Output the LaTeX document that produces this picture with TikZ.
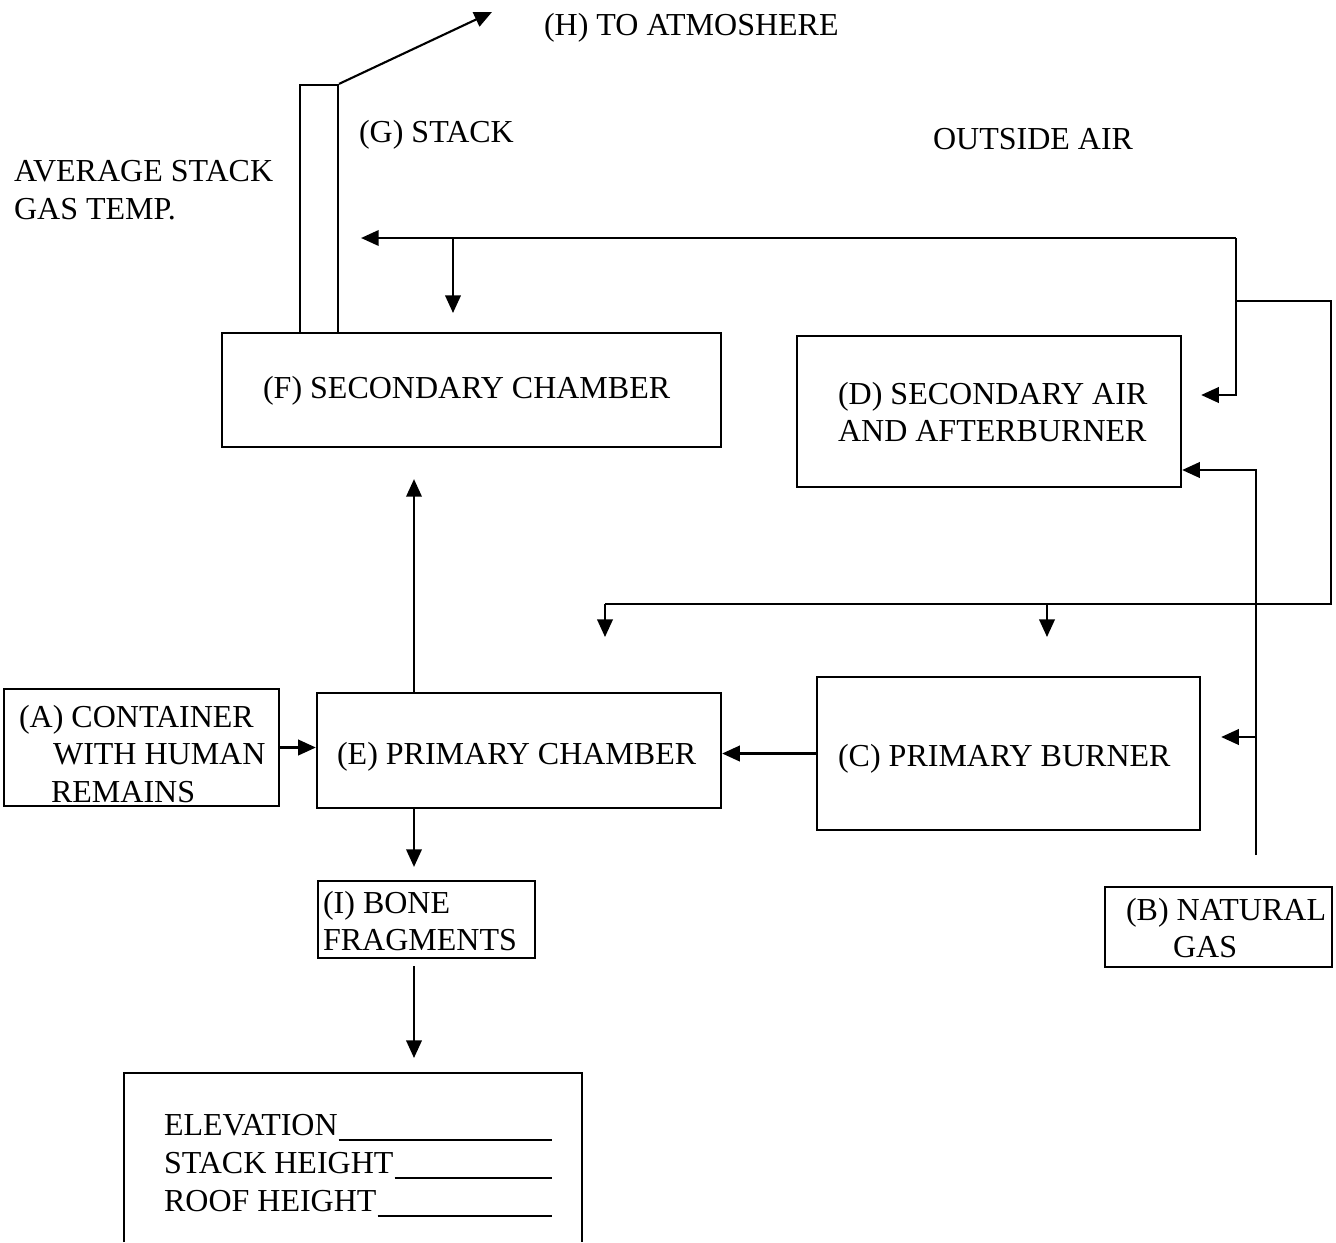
\documentclass[tikz,border=0pt]{standalone}
\usepackage{fontspec}
\setmainfont{Liberation Serif}
\usetikzlibrary{arrows.meta}

\begin{document}
\begin{tikzpicture}[x=0.01cm,y=-0.01cm,line width=0.6pt,
        box/.style={draw,rectangle,inner sep=0pt},
        lbl/.style={font=\fontsize{9.1}{10.6}\selectfont,inner sep=0pt,align=left,anchor=west},
        flow/.style={-{Triangle[length=5pt,width=4.4pt]}}]
        \useasboundingbox (0,0) rectangle (1336,1242);
        % boxes
        \node[box,minimum width=4.99cm,minimum height=1.14cm] (F) at (471.5,390) {};
        \node[box,minimum width=3.84cm,minimum height=1.51cm] (D) at (989,411.5) {};
        \node[box,minimum width=3.83cm,minimum height=1.53cm] (C) at (1008.5,753.5) {};
        \node[box,minimum width=4.04cm,minimum height=1.15cm] (E) at (519,750.5) {};
        \node[box,minimum width=2.75cm,minimum height=1.17cm] (A) at (141.5,747.5) {};
        \node[box,minimum width=2.17cm,minimum height=0.77cm] (I) at (426.5,919.5) {};
        \node[box,minimum width=2.27cm,minimum height=0.80cm] (B) at (1218.5,927) {};
        \node[box,minimum width=0.38cm,minimum height=2.48cm] (G) at (319,209) {};
        \draw (124,1242) -- (124,1073) -- (582,1073) -- (582,1242);
        \coordinate (site) at (414,1073);
        % texts
        \node[lbl] (Ht) at (543,28) {(H) TO ATMOSHERE};
        \node[lbl] (Gt) at (358,135) {(G) STACK};
        \node[lbl] (Tt) at (13,190) {AVERAGE STACK\\GAS TEMP.};
        \node[lbl] (Ot) at (932,139) {OUTSIDE AIR};
        \node[lbl] (Ft) at (262,391) {(F) SECONDARY CHAMBER};
        \node[lbl] (Dt) at (837,412) {(D) SECONDARY AIR\\AND AFTERBURNER};
        \node[lbl] (Et) at (336,757) {(E) PRIMARY CHAMBER};
        \node[lbl] (Ct) at (837,759) {(C) PRIMARY BURNER};
        \node[lbl] (At) at (18,754) {(A) CONTAINER\\\hspace*{0.34cm}WITH HUMAN\\\hspace*{0.32cm}REMAINS};
        \node[lbl] (It) at (322,921) {(I) BONE\\FRAGMENTS};
        \node[lbl] (Bt) at (1125,928) {(B) NATURAL\\\hspace*{0.47cm}GAS};
        \node[lbl,anchor=base west] (elev) at (163,1135) {ELEVATION};
        \node[lbl,anchor=base west] (stackh) at (163,1173) {STACK HEIGHT};
        \node[lbl,anchor=base west] (roofh) at (163,1211) {ROOF HEIGHT};
        \coordinate (ulend) at (552,0);
        \foreach \n in {elev,stackh,roofh}
            \draw ([yshift=-0.05cm]\n.base east) coordinate (u) -- (u -| ulend);
        % stack to atmosphere
        \coordinate (atm) at (492,12);
        \draw[flow] (G.north east) -- (atm);
        % outside air
        \coordinate (air1) at (1236,238);
        \coordinate (air2) at (1236,301);
        \coordinate (air3) at (1331,604);
        \coordinate (dropE) at (605,637);
        \coordinate (dropC) at (1047,637);
        \draw[flow,shorten >=0.22cm] (air1) -- (air1 -| G.east);
        \draw[flow,shorten >=0.2cm] (453,238) -- (453,333);
        \draw[flow,shorten >=0.19cm] (air1) -- (1236,395) -- (D.east |- 0,395);
        \draw (air2) -- (air2 -| air3) -- (air3) -- (air3 -| dropE);
        \draw[flow] (dropE |- air3) -- (dropE);
        \draw[flow] (dropC |- air3) -- (dropC);
        % natural gas
        \coordinate (gas) at (1256,855);
        \draw[flow] (gas) -- (1256,470) -- (D.east |- 0,470);
        \draw[flow,shorten >=0.2cm] (1256,737) -- (C.east |- 0,737);
        % main flow
        \coordinate (col) at (414,0);
        \draw[flow] (A.east) -- (A.east -| E.west);
        \draw[flow] (C.west) -- (C.west -| E.east);
        \draw[flow,shorten >=0.31cm] (E.north -| col) -- (F.south -| col);
        \draw[flow,shorten >=0.13cm] (E.south -| col) -- (I.north -| col);
        \draw[flow,shorten >=0.15cm,shorten <=0.07cm] (I.south -| col) -- (site);
    \end{tikzpicture}
\end{document}
